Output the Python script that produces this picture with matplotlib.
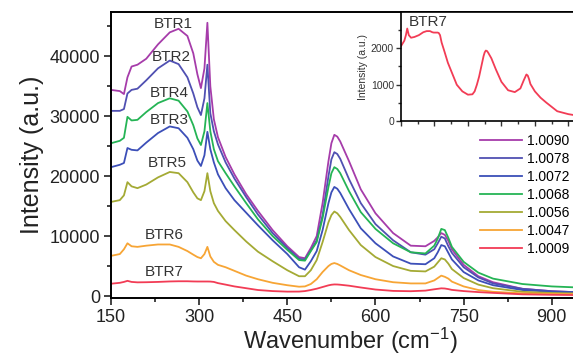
import matplotlib
matplotlib.use("Agg")
import matplotlib.pyplot as plt
from matplotlib.ticker import MultipleLocator

plt.rcParams['font.family'] = ['Liberation Sans', 'DejaVu Sans']
plt.rcParams['mathtext.fontset'] = 'custom'
plt.rcParams['mathtext.rm'] = 'Liberation Sans'
plt.rcParams['mathtext.it'] = 'Liberation Sans'

# wavenumber grid (cm-1)
wn = [150, 165, 172, 178, 185, 195, 210, 230, 250, 265, 280, 290, 297, 303, 309, 314, 319,
      325, 332, 345, 360, 380, 400, 425, 450, 470, 480, 490, 500, 510, 520, 525, 530, 535, 540, 555,
      575, 600, 630, 660, 685, 700, 706, 712, 718, 724, 730, 750, 775, 800, 850, 900, 950]

# intensities in units of 1000
btr1 = [34.4, 34.2, 33.7, 36.5, 38.3, 38.6, 39.6, 42.0, 44.0, 44.6, 43.4, 40.5, 37.0, 34.7, 38.0, 45.6, 35.0,
        29.5, 26.5, 23.2, 20.3, 17.0, 14.2, 11.0, 8.3, 6.5, 6.3, 8.0, 10.0, 15.5, 22.5, 25.5, 26.9, 26.6, 25.8, 22.5,
        17.8, 13.8, 10.5, 8.4, 8.3, 9.2, 9.8, 10.5, 10.2, 9.2, 7.8, 5.2, 3.3, 2.3, 1.2, 0.8, 0.6]
btr2 = [30.9, 30.9, 31.2, 33.8, 34.4, 34.6, 36.0, 38.0, 39.3, 38.7, 36.5, 33.8, 31.5, 30.2, 33.0, 38.6, 30.5,
        27.5, 25.3, 22.3, 19.6, 16.5, 13.6, 10.5, 8.0, 6.2, 6.1, 7.6, 9.3, 13.5, 20.0, 22.8, 24.0, 23.7, 22.9, 19.5,
        15.5, 12.0, 9.3, 7.3, 6.9, 7.8, 8.8, 9.9, 9.6, 8.3, 7.2, 4.8, 3.1, 2.1, 1.2, 0.8, 0.6]
btr3 = [21.5, 21.9, 22.2, 24.7, 24.4, 24.3, 25.6, 27.2, 28.3, 28.0, 26.4, 24.5, 22.6, 21.7, 23.5, 27.4, 24.5,
        22.3, 20.3, 18.0, 16.0, 13.9, 11.8, 9.3, 7.0, 4.8, 4.4, 5.8, 7.5, 11.0, 15.5, 17.3, 18.2, 17.9, 17.2, 14.5,
        11.3, 8.8, 6.6, 5.4, 5.3, 6.3, 7.3, 8.5, 8.3, 7.2, 6.1, 4.0, 2.6, 1.8, 1.0, 0.7, 0.6]
btr4 = [25.5, 25.9, 26.4, 29.9, 29.3, 29.4, 30.7, 32.2, 33.0, 32.6, 30.8, 28.5, 26.3, 25.2, 27.5, 32.2, 27.5,
        24.5, 22.5, 20.5, 18.3, 15.5, 12.8, 10.0, 7.7, 6.0, 5.9, 7.5, 9.0, 13.0, 18.2, 20.5, 21.5, 21.2, 20.5, 17.5,
        14.0, 11.2, 8.8, 7.3, 7.1, 8.4, 9.6, 11.2, 11.0, 9.7, 8.2, 5.7, 3.9, 2.9, 2.0, 1.6, 1.4]
btr5 = [15.7, 16.0, 16.8, 19.0, 18.3, 18.0, 18.6, 19.8, 20.7, 20.5, 19.0, 17.3, 16.3, 16.0, 17.5, 20.5, 17.5,
        15.5, 14.2, 12.5, 11.0, 9.1, 7.4, 5.8, 4.3, 3.3, 3.3, 4.3, 6.0, 9.0, 12.3, 13.5, 14.1, 13.8, 13.2, 11.0,
        8.5, 6.5, 5.0, 4.2, 4.1, 4.9, 5.6, 6.3, 6.1, 5.4, 4.5, 3.0, 1.9, 1.3, 0.7, 0.5, 0.4]
btr6 = [6.7, 7.0, 7.8, 8.8, 8.3, 8.2, 8.4, 8.6, 8.6, 8.2, 7.5, 6.9, 6.5, 6.3, 7.0, 8.2, 6.6,
        5.7, 5.2, 4.8, 4.2, 3.4, 2.8, 2.2, 1.8, 1.55, 1.6, 2.0, 2.8, 4.0, 5.0, 5.35, 5.5, 5.35, 5.1, 4.3,
        3.5, 2.8, 2.3, 2.1, 2.1, 2.6, 3.0, 3.4, 3.2, 2.9, 2.4, 1.6, 1.0, 0.7, 0.45, 0.35, 0.3]
btr7 = [2.05, 2.2, 2.35, 2.53, 2.35, 2.28, 2.30, 2.35, 2.43, 2.46, 2.46, 2.43, 2.42, 2.42, 2.42, 2.42, 2.41,
        2.35, 2.15, 1.9, 1.6, 1.3, 1.0, 0.82, 0.73, 0.74, 0.82, 1.0, 1.22, 1.5, 1.78, 1.88, 1.93, 1.92, 1.88, 1.72,
        1.42, 1.08, 0.85, 0.80, 0.90, 1.12, 1.2, 1.28, 1.25, 1.15, 1.02, 0.82, 0.65, 0.52, 0.28, 0.2, 0.15]

series = [btr1, btr2, btr3, btr4, btr5, btr6, btr7]
legend_labels = ['1.0090', '1.0078', '1.0072', '1.0068', '1.0056', '1.0047', '1.0009']
colors = ['#a63caa', '#5050b2', '#3c4fb8', '#25b455', '#a4aa34', '#f7a535', '#f23c55']

# sample names and where they are written (wavenumber, intensity in 1000)
names = ['BTR1', 'BTR2', 'BTR4', 'BTR3', 'BTR5', 'BTR6', 'BTR7']
name_x = [256, 252, 249, 249, 245, 240, 240]
name_y = [45.4, 39.9, 33.9, 29.4, 22.2, 10.2, 4.0]

fig = plt.figure(figsize=(5.73, 3.56), dpi=100)
ax = fig.add_axes([111 / 573, 1 - 297.5 / 356, 479 / 573, 285.5 / 356])

for vals, c, lab in zip(series, colors, legend_labels):
    ax.plot(wn, [v * 1000 for v in vals], color=c, lw=1.3, label=lab)

for n, x, y in zip(names, name_x, name_y):
    ax.text(x, y * 1000, n, ha='center', va='center', fontsize=11, color='#333333')

ax.set_xlim(150, 965)
ax.set_ylim(-250, 47400)
ax.xaxis.set_major_locator(MultipleLocator(150))
ax.xaxis.set_minor_locator(MultipleLocator(75))
ax.yaxis.set_major_locator(MultipleLocator(10000))
ax.yaxis.set_minor_locator(MultipleLocator(5000))
ax.tick_params(which='both', direction='out', labelsize=13, colors='#222222', width=1.2)
ax.tick_params(which='major', length=5, pad=3)
ax.tick_params(which='minor', length=3)
for s in ax.spines.values():
    s.set_linewidth(1.4)
ax.spines['right'].set_visible(False)
ax.set_xlabel('Wavenumber (cm$^{-1}$)', fontsize=17, color='#222222', labelpad=0)
ax.set_ylabel('Intensity (a.u.)', fontsize=18, color='#222222', labelpad=4)

ax.legend(loc='upper left', bbox_to_anchor=(480 / 573, 1 - 134 / 356),
          bbox_transform=fig.transFigure, frameon=False, fontsize=10,
          handlelength=3.0, handletextpad=0.35, labelspacing=0.29,
          borderpad=0, borderaxespad=0)

# inset with BTR7 alone
ins = fig.add_axes([401 / 573, 1 - 121.5 / 356, 189 / 573, 109.5 / 356])
ins.plot(wn, [v * 1000 for v in btr7], color=colors[6], lw=1.3)
ins.text(271, 2700, 'BTR7', ha='center', va='center', fontsize=11, color='#333333')
ins.set_xlim(150, 997)
ins.set_ylim(0, 2980)
ins.xaxis.set_major_locator(MultipleLocator(150))
ins.xaxis.set_minor_locator(MultipleLocator(75))
ins.yaxis.set_major_locator(MultipleLocator(1000))
ins.yaxis.set_minor_locator(MultipleLocator(500))
ins.tick_params(which='both', direction='out', labelsize=7.5, colors='#333333', width=1)
ins.tick_params(which='major', length=3.5, pad=1.5)
ins.tick_params(which='minor', length=2)
ins.tick_params(axis='x', labelbottom=False)
for s in ins.spines.values():
    s.set_linewidth(1.2)
ins.spines['right'].set_visible(False)
ins.set_ylabel('Intensity (a.u.)', fontsize=7.5, color='#333333', labelpad=2)

fig.savefig('out.png', dpi=100)
